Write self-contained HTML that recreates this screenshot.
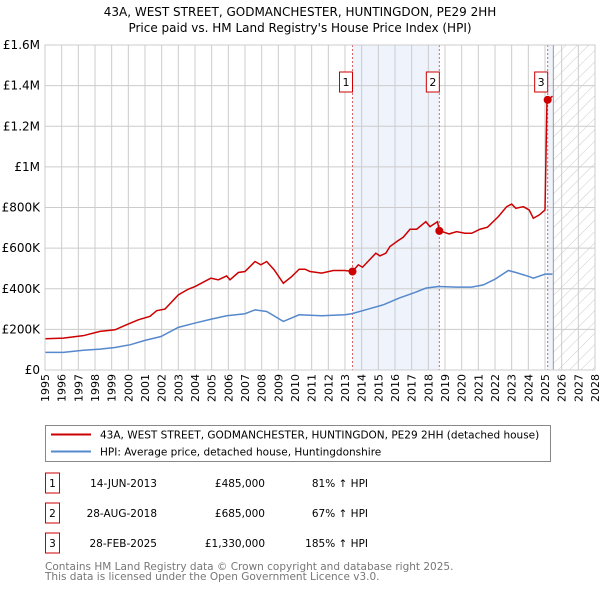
<!DOCTYPE html>
<html><head><meta charset="utf-8"><style>
body{margin:0;background:#fff;font-family:"Liberation Sans","DejaVu Sans",sans-serif}
svg text{font-family:"DejaVu Sans","Liberation Sans",sans-serif}
</style></head><body>
<svg id="c" width="600" height="590" xmlns="http://www.w3.org/2000/svg">
<defs><pattern id="hatch" width="8" height="8" patternUnits="userSpaceOnUse" patternTransform="rotate(45)"><line x1="0" y1="0" x2="0" y2="8" stroke="#ccc" stroke-width="1"/></pattern></defs>
<text x="300" y="16" text-anchor="middle" font-size="12" fill="#000">43A, WEST STREET, GODMANCHESTER, HUNTINGDON, PE29 2HH</text>
<text x="300" y="32" text-anchor="middle" font-size="12" fill="#000">Price paid vs. HM Land Registry's House Price Index (HPI)</text>
<g id="plot"></g>
<rect x="45.5" y="425.5" width="505" height="36" fill="#fff" stroke="#888"/>
<line x1="51" y1="434.5" x2="91" y2="434.5" stroke="#cc0000" stroke-width="2"/>
<text x="100" y="438.5" font-size="10.5">43A, WEST STREET, GODMANCHESTER, HUNTINGDON, PE29 2HH (detached house)</text>
<line x1="51" y1="451.5" x2="91" y2="451.5" stroke="#5588cc" stroke-width="2"/>
<text x="100" y="455.5" font-size="10.5">HPI: Average price, detached house, Huntingdonshire</text>
<g font-size="10.5" id="tbl"></g>
<text x="45" y="570" font-size="10.5" fill="#777">Contains HM Land Registry data © Crown copyright and database right 2025.</text>
<text x="45" y="580" font-size="10.5" fill="#777">This data is licensed under the Open Government Licence v3.0.</text>
</svg>
<script>
const redYears=[1995,1996.1,1997.3,1998.3,1999.2,1999.9,2000.6,2001.3,2001.7,2002.2,2003,2003.6,2004,2004.95,2005.4,2005.9,2006.1,2006.6,2007,2007.6,2007.95,2008.3,2008.75,2009.3,2009.8,2010.25,2010.6,2010.9,2011.6,2012.3,2013,2013.45,2013.8,2014.05,2014.85,2015.1,2015.45,2015.7,2016.1,2016.5,2016.9,2017.3,2017.85,2018.1,2018.55,2018.66,2019.25,2019.7,2020.2,2020.6,2021.1,2021.55,2022,2022.2,2022.7,2023,2023.25,2023.7,2024.05,2024.3,2024.65,2025.0,2025.12,2025.16,2025.45];
const redVals=[154,157,169,190,198,223,247,264,292,300,370,398,411,452,444,463,444,480,485,534,518,534,493,427,460,496,496,485,477,490,490,485,518,506,575,562,575,608,632,654,693,693,730,706,730,686,670,681,673,673,693,703,739,755,804,817,796,804,788,747,763,788,1336,1330,1348];
const hpiYears=[1995,1996.1,1997.3,1998.3,1999.2,2000.1,2001,2001.96,2003,2004,2004.95,2005.9,2007,2007.6,2008.3,2009.3,2010.25,2011.6,2013,2013.4,2014.4,2015.3,2016.25,2017.2,2017.85,2018.6,2019.7,2020.6,2021.3,2022,2022.8,2023.25,2024.05,2024.3,2025,2025.45];
const hpiVals=[87,87,97,103,111,124,146,165,210,231,250,267,277,296,288,239,272,267,272,277,300,321,354,382,403,411,408,408,419,447,490,480,460,452,472,472];
const yTickVals=[0,200,400,600,800,1000,1200,1400,1600];
const yTickLabels=["£0","£200K","£400K","£600K","£800K","£1M","£1.2M","£1.4M","£1.6M"];
const saleYears=[2013.45,2018.66,2025.16];
const saleVals=[485,685,1330];
const saleLabels=["1","2","3"];
const saleDates=["14-JUN-2013","28-AUG-2018","28-FEB-2025"];
const salePrices=["£485,000","£685,000","£1,330,000"];
const saleHpi=["81% ↑ HPI","67% ↑ HPI","185% ↑ HPI"];
const X0=45,X1=595,Y0=370,Y1=45;
const xs=y=>X0+(y-1995)*(X1-X0)/33;
const ys=v=>Y0-v*(Y0-Y1)/1600;
const NS="http://www.w3.org/2000/svg";
const g=document.getElementById('plot');
function mk(t,a,p){const e=document.createElementNS(NS,t);for(const k in a)e.setAttribute(k,a[k]);(p||g).appendChild(e);return e;}
let e;
e=mk('rect',{x:xs(saleYears[0]),y:Y1,width:xs(saleYears[1])-xs(saleYears[0]),height:Y0-Y1,fill:'#eef3fc'});


e=mk('rect',{x:xs(saleYears[2]),y:Y1,width:xs(2025.5)-xs(saleYears[2]),height:Y0-Y1,fill:'#eef3fc'});


e=mk('rect',{x:xs(2025.5),y:Y1,width:X1-xs(2025.5),height:Y0-Y1,fill:'url(#hatch)'});


for(let yr=1995;yr<=2028;yr++){
 e=mk('line',{x1:xs(yr),x2:xs(yr),y1:Y1,y2:Y0,stroke:'#ccc','stroke-width':1});
 
 
 e=mk('text',{x:0,y:0,'font-size':11,'text-anchor':'end',transform:`translate(${xs(yr)+4},374) rotate(-90)`});
 e.textContent=yr;
 
 
}
yTickVals.forEach((v,i)=>{
 e=mk('line',{x1:X0,x2:X1,y1:ys(v),y2:ys(v),stroke:'#ccc','stroke-width':1});
 
 
 e=mk('text',{x:40,y:ys(v)+4,'font-size':12,'text-anchor':'end'});
 e.textContent=yTickLabels[i];
 
 
});
e=mk('line',{x1:xs(2025.5),x2:xs(2025.5),y1:Y1,y2:Y0,stroke:'#999'});


saleYears.forEach((s,i)=>{
 e=mk('line',{x1:xs(s),x2:xs(s),y1:Y1,y2:Y0,stroke:'#e06060','stroke-dasharray':'2,2'});
 
 
});
e=mk('polyline',{points:hpiYears.map((y,i)=>xs(y)+','+ys(hpiVals[i])).join(' '),fill:'none',stroke:'#5588cc','stroke-width':1.5});


e=mk('polyline',{points:redYears.map((y,i)=>xs(y)+','+ys(redVals[i])).join(' '),fill:'none',stroke:'#cc0000','stroke-width':1.5});


saleYears.forEach((s,i)=>{
 e=mk('circle',{cx:xs(s),cy:ys(saleVals[i]),r:4,fill:'#cc0000'});
 
 
 e=mk('rect',{x:xs(s)-13,y:72,width:13,height:20,fill:'#fff',stroke:'#cc0000'});
 
 
 e=mk('text',{x:xs(s)-6.5,y:86,'font-size':11,'text-anchor':'middle'});
 e.textContent=saleLabels[i];
 
 
});
e=mk('rect',{x:X0,y:Y1,width:X1-X0,height:Y0-Y1,fill:'none',stroke:'#ccc'});


const t=document.getElementById('tbl');
saleLabels.forEach((l,i)=>{
 const cy=483+i*30;
 e=mk('rect',{x:45.5,y:cy-10,width:14,height:20,fill:'#fff',stroke:'#cc0000'},t);
 
 
 const cols=[[52.5,l,'middle'],[157,saleDates[i],'end'],[265,salePrices[i],'end'],[368,saleHpi[i],'end']];
 cols.forEach(c=>{
  e=mk('text',{x:c[0],y:cy+4,'text-anchor':c[2]},t);
  e.textContent=c[1];
  
  
 });
});
</script>
</body></html>
